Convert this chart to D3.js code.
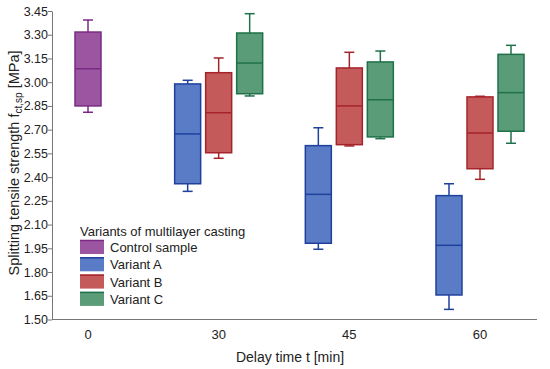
<!DOCTYPE html>
<html>
<head>
<meta charset="utf-8">
<script src="https://cdn.jsdelivr.net/npm/d3@7"></script>
<style>
  body { margin: 0; background: #fff; }
  text { font-family: "Liberation Sans", Arial, sans-serif; fill: #222; }
</style>
</head>
<body>
<div class="chart"></div>
<script>
// data: five-number summaries [min, q1, median, q3, max] per delay time
const delays = ['0', '30', '45', '60'];
const variants = ['Control sample', 'Variant A', 'Variant B', 'Variant C'];
const controlSample = [[2.81, 2.85, 3.085, 3.317, 3.393], null, null, null];
const variantA = [null, [2.31, 2.358, 2.673, 2.989, 3.012], [1.944, 1.982, 2.291, 2.599, 2.712], [1.564, 1.655, 1.969, 2.283, 2.358]];
const variantB = [null, [2.519, 2.554, 2.807, 3.06, 3.153], [2.597, 2.605, 2.85, 3.09, 3.189], [2.386, 2.453, 2.679, 2.907, 2.911]];
const variantC = [null, [2.913, 2.927, 3.121, 3.311, 3.433], [2.643, 2.654, 2.889, 3.128, 3.197], [2.614, 2.69, 2.934, 3.176, 3.233]];
const yTicks = [1.50, 1.65, 1.80, 1.95, 2.10, 2.25, 2.40, 2.55, 2.70, 2.85, 3.00, 3.15, 3.30, 3.45];

const fills = ['#9c56a1', '#5a7bc6', '#c55a5b', '#5a9b78'];
const strokes = ['#7a2a84', '#1f419c', '#a5242b', '#1f7149'];

const width = 550, height = 369;
const margin = {top: 11, right: 13, bottom: 49.5, left: 52};

const svg = d3.select('.chart')
  .append('svg')
  .attr('width', width)
  .attr('height', height);

const x = d3.scalePoint()
  .domain(delays)
  .range([88, 480]);

// sub-position inside a delay group (Control sits alone in the middle)
const sub = d3.scaleBand()
  .domain(variants.slice(1))
  .range([-46.5, 46.5]);

const y = d3.scaleLinear()
  .domain([1.5, 3.45])
  .range([height - margin.bottom, margin.top]);

const boxW = 26, capW = 10;

// build box list from the arrays
const allSeries = [controlSample, variantA, variantB, variantC];
const boxes = [];
allSeries.forEach((s, vi) => {
  s.forEach((st, di) => {
    if (st) boxes.push({variant: vi, delay: delays[di], stats: st});
  });
});

const cx = d => x(d.delay) + (d.variant === 0 ? 0 : sub(variants[d.variant]) + sub.bandwidth() / 2);

// axes
const yAxis = svg.append('g')
  .attr('transform', `translate(${margin.left},0)`)
  .call(d3.axisLeft(y).tickValues(yTicks).tickFormat(d3.format('.2f')).tickSize(4).tickSizeOuter(0));
yAxis.select('.domain').attr('stroke', '#777');
yAxis.selectAll('.tick line').attr('stroke', '#777');
yAxis.selectAll('.tick text').attr('font-size', 12.5).attr('fill', '#222').attr('x', -4);

svg.append('line')
  .attr('x1', margin.left).attr('x2', width - margin.right)
  .attr('y1', y(1.5)).attr('y2', y(1.5))
  .attr('stroke', '#777');

svg.selectAll('.xlab')
  .data(delays)
  .enter()
  .append('text')
  .attr('class', 'xlab')
  .attr('x', d => x(d))
  .attr('y', 339)
  .attr('text-anchor', 'middle')
  .attr('font-size', 13)
  .text(d => d);

// boxes
const g = svg.selectAll('.box')
  .data(boxes)
  .enter()
  .append('g')
  .attr('class', 'box');

// whiskers
g.append('line')
  .attr('x1', cx).attr('x2', cx)
  .attr('y1', d => y(d.stats[4])).attr('y2', d => y(d.stats[3]))
  .attr('stroke', d => strokes[d.variant]).attr('stroke-width', 1.5);
g.append('line')
  .attr('x1', cx).attr('x2', cx)
  .attr('y1', d => y(d.stats[1])).attr('y2', d => y(d.stats[0]))
  .attr('stroke', d => strokes[d.variant]).attr('stroke-width', 1.5);
g.append('line')
  .attr('x1', d => cx(d) - capW / 2).attr('x2', d => cx(d) + capW / 2)
  .attr('y1', d => y(d.stats[4])).attr('y2', d => y(d.stats[4]))
  .attr('stroke', d => strokes[d.variant]).attr('stroke-width', 1.5);
g.append('line')
  .attr('x1', d => cx(d) - capW / 2).attr('x2', d => cx(d) + capW / 2)
  .attr('y1', d => y(d.stats[0])).attr('y2', d => y(d.stats[0]))
  .attr('stroke', d => strokes[d.variant]).attr('stroke-width', 1.5);

g.append('rect')
  .attr('x', d => cx(d) - boxW / 2)
  .attr('width', boxW)
  .attr('y', d => y(d.stats[3]))
  .attr('height', d => y(d.stats[1]) - y(d.stats[3]))
  .attr('fill', d => fills[d.variant])
  .attr('stroke', d => strokes[d.variant])
  .attr('stroke-width', 1.5);

g.append('line')
  .attr('x1', d => cx(d) - boxW / 2).attr('x2', d => cx(d) + boxW / 2)
  .attr('y1', d => y(d.stats[2])).attr('y2', d => y(d.stats[2]))
  .attr('stroke', d => strokes[d.variant]).attr('stroke-width', 1.5);

// legend
const legend = svg.append('g').attr('transform', 'translate(80,0)');
legend.append('text')
  .attr('x', 0).attr('y', 236)
  .attr('font-size', 13)
  .text('Variants of multilayer casting');
const item = legend.selectAll('.item')
  .data(variants)
  .enter()
  .append('g')
  .attr('class', 'item')
  .attr('transform', (d, i) => `translate(0,${240 + i * 17.3})`);
item.append('rect')
  .attr('width', 24).attr('height', 14)
  .attr('fill', (d, i) => fills[i]);
item.append('line')
  .attr('x1', 0).attr('x2', 24).attr('y1', 0.5).attr('y2', 0.5)
  .attr('stroke', (d, i) => strokes[i]).attr('stroke-width', 1.5);
item.append('text')
  .attr('x', 30).attr('y', 12)
  .attr('font-size', 13)
  .text(d => d);

// axis titles
svg.append('text')
  .attr('x', 290).attr('y', 362)
  .attr('text-anchor', 'middle')
  .attr('font-size', 14)
  .text('Delay time t [min]');

const yt = svg.append('text')
  .attr('transform', 'translate(18.5,163) rotate(-90)')
  .attr('text-anchor', 'middle')
  .attr('font-size', 14.5);
yt.append('tspan').text('Splitting tensile strength f');
yt.append('tspan').attr('font-size', 10).attr('dy', 3).text('ct,sp');
yt.append('tspan').attr('dy', -3).text(' [MPa]');
</script>
</body>
</html>
